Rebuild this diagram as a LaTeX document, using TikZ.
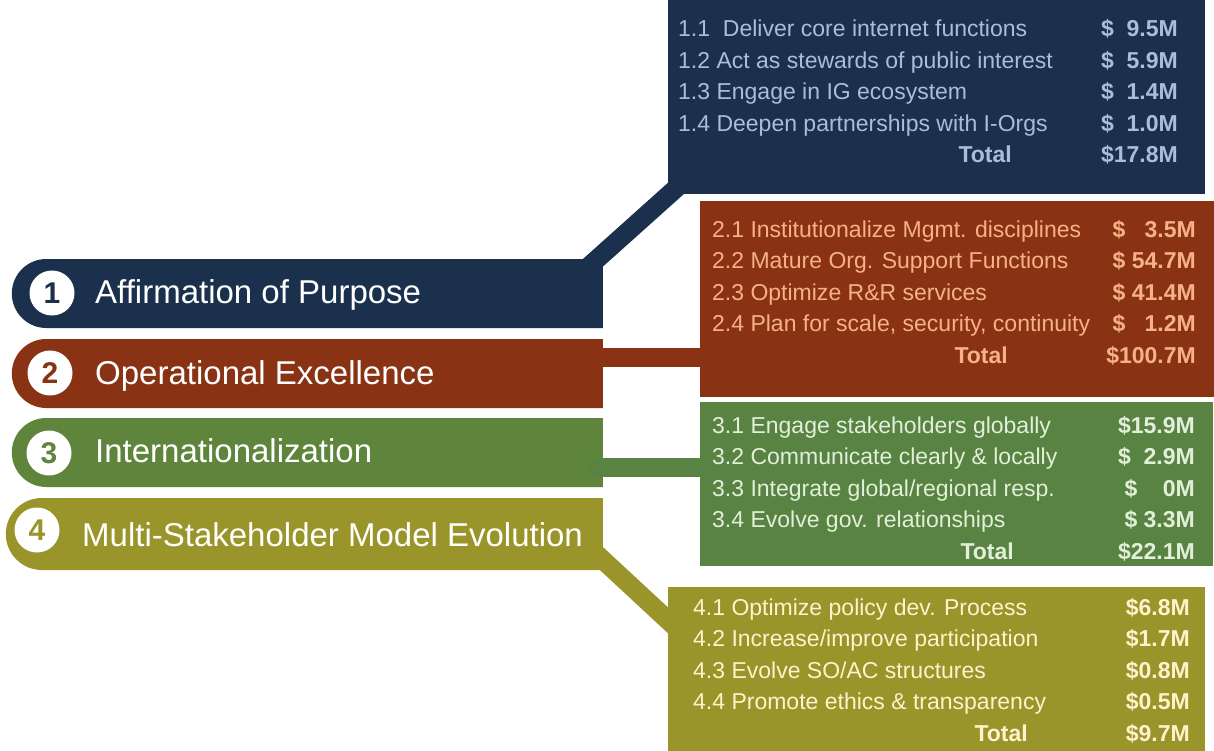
\documentclass[tikz,border=0pt]{standalone}
\usepackage{fontspec}
\setmainfont{Liberation Sans}
\usetikzlibrary{shapes.misc}
\definecolor{navy}{RGB}{27,48,76}
\definecolor{rust}{RGB}{138,50,20}
\definecolor{leaf}{RGB}{95,133,60}
\definecolor{leafbox}{RGB}{89,131,66}
\definecolor{olive}{RGB}{154,149,42}
\definecolor{navytext}{RGB}{170,190,216}
\definecolor{rusttext}{RGB}{246,178,132}
\definecolor{leaftext}{RGB}{226,239,217}
\definecolor{olivetext}{RGB}{255,242,204}

\begin{document}
\begin{tikzpicture}[x=1pt, y=-1pt,
	bar/.style={rounded rectangle, rounded rectangle right arc=none, minimum height=69pt, minimum width=591pt, inner sep=0pt, anchor=east},
	box/.style={rectangle, inner sep=0pt, anchor=north west},
	band/.style={line width=19pt},
	num/.style={circle, fill=white, minimum size=45pt, inner sep=0pt, font=\fontsize{30}{32}\selectfont\bfseries},
	goal/.style={white, anchor=base west, inner sep=0pt, font=\fontsize{33}{36}\selectfont},
	item/.style={anchor=base west, inner sep=0pt, font=\fontsize{23}{26}\selectfont},
	cost/.style={anchor=base east, inner sep=0pt, font=\fontsize{23}{26}\selectfont\bfseries}]
			\useasboundingbox (0,0) rectangle (1214,751);

			% Budget boxes
			\node[box, fill=navy, minimum width=537pt, minimum height=194pt] (box1) at (668,0) {};
			\node[box, fill=rust, minimum width=514pt, minimum height=196pt] (box2) at (700,201) {};
			\node[box, fill=leafbox, minimum width=513pt, minimum height=164pt] (box3) at (700,402) {};
			\node[box, fill=olive, minimum width=537pt, minimum height=164pt] (box4) at (668,587) {};

			% Goal bars
			\node[bar, fill=navy] (bar1) at (603,293.5) {};
			\node[bar, fill=rust] (bar2) at (603,373.5) {};
			\node[bar, fill=leaf] (bar3) at (603,452.5) {};
			\node[bar, fill=olive, minimum height=72pt, minimum width=597pt] (bar4) at (603,534) {};

			% Bands from bars to boxes
			\coordinate (c2) at ([xshift=-10pt,yshift=16.5pt]bar2.east);
			\coordinate (c3) at ([xshift=-13pt,yshift=-14.5pt]bar3.east);
			\draw[band, navy] ([xshift=-41pt,yshift=3pt]bar1.east) -- ([xshift=28pt,yshift=24pt]box1.south west);
			\draw[band, rust] (c2) -- (c2 -| box2.center);
			\draw[band, leafbox] (c3) -- (c3 -| box3.center);
			\draw[band, olive] ([xshift=-27pt,yshift=-1pt]bar4.east) -- ([xshift=32pt,yshift=-63pt]box4.north west);

			% Numbers and goal names
			\node[num, text=navy] (n1) at (52,293) {1};
			\node[num, text=rust] (n2) at (50,373) {2};
			\node[num, text=leaf] (n3) at (49,453) {3};
			\node[num, text=olive] (n4) at (37,530) {4};
			\node[goal] (g1) at (95,303) {Affirmation of Purpose};
			\node[goal] (g2) at (95,384) {Operational Excellence};
			\node[goal] (g3) at (95,462) {Internationalization};
			\node[goal] (g4) at (82,546) {Multi-Stakeholder Model Evolution};

			% Rows of box 1
			\foreach \t/\v [count=\i] in {{1.1\ \ Deliver core internet functions}/{\$\ \ 9.5M},
				{1.2 Act as stewards of public interest}/{\$\ \ 5.9M},
				{1.3 Engage in IG ecosystem}/{\$\ \ 1.4M},
				{1.4 Deepen partnerships with I-Orgs}/{\$\ \ 1.0M}}
			{
				\node[item, navytext] (r1\i) at (678,{37+31.5*(\i-1)}) {\t};
				\node[cost, navytext] (v1\i) at (1178,{37+31.5*(\i-1)}) {\v};
			}
			\node[cost, navytext] (tot1) at (1012,163) {Total};
			\node[cost, navytext] (sum1) at (1178,163) {\$17.8M};

			% Rows of box 2
			\foreach \t/\v [count=\i] in {{2.1 Institutionalize Mgmt. disciplines}/{\$\ \ \ 3.5M},
				{2.2 Mature Org. Support Functions}/{\$\ 54.7M},
				{2.3 Optimize R\&R services}/{\$\ 41.4M},
				{2.4 Plan for scale, security, continuity}/{\$\ \ \ 1.2M}}
			{
				\node[item, rusttext] (r2\i) at (712,{237+31.5*(\i-1)}) {\t};
				\node[cost, rusttext] (v2\i) at (1196,{237+31.5*(\i-1)}) {\v};
			}
			\node[cost, rusttext] (tot2) at (1008,363) {Total};
			\node[cost, rusttext] (sum2) at (1196,363) {\$100.7M};

			% Rows of box 3
			\foreach \t/\v [count=\i] in {{3.1 Engage stakeholders globally}/{\$15.9M},
				{3.2 Communicate clearly \& locally}/{\$\ \ 2.9M},
				{3.3 Integrate global/regional resp.}/{\$\ \ \ \ 0M},
				{3.4 Evolve gov. relationships}/{\$\ 3.3M}}
			{
				\node[item, leaftext] (r3\i) at (712,{433+31.5*(\i-1)}) {\t};
				\node[cost, leaftext] (v3\i) at (1195,{433+31.5*(\i-1)}) {\v};
			}
			\node[cost, leaftext] (tot3) at (1014,559) {Total};
			\node[cost, leaftext] (sum3) at (1195,559) {\$22.1M};

			% Rows of box 4
			\foreach \t/\v [count=\i] in {{4.1 Optimize policy dev. Process}/{\$6.8M},
				{4.2 Increase/improve participation}/{\$1.7M},
				{4.3 Evolve SO/AC structures}/{\$0.8M},
				{4.4 Promote ethics \& transparency}/{\$0.5M}}
			{
				\node[item, olivetext] (r4\i) at (693,{615+31.5*(\i-1)}) {\t};
				\node[cost, olivetext] (v4\i) at (1190,{615+31.5*(\i-1)}) {\v};
			}
			\node[cost, olivetext] (tot4) at (1028,741) {Total};
			\node[cost, olivetext] (sum4) at (1190,741) {\$9.7M};
		\end{tikzpicture}
\end{document}
